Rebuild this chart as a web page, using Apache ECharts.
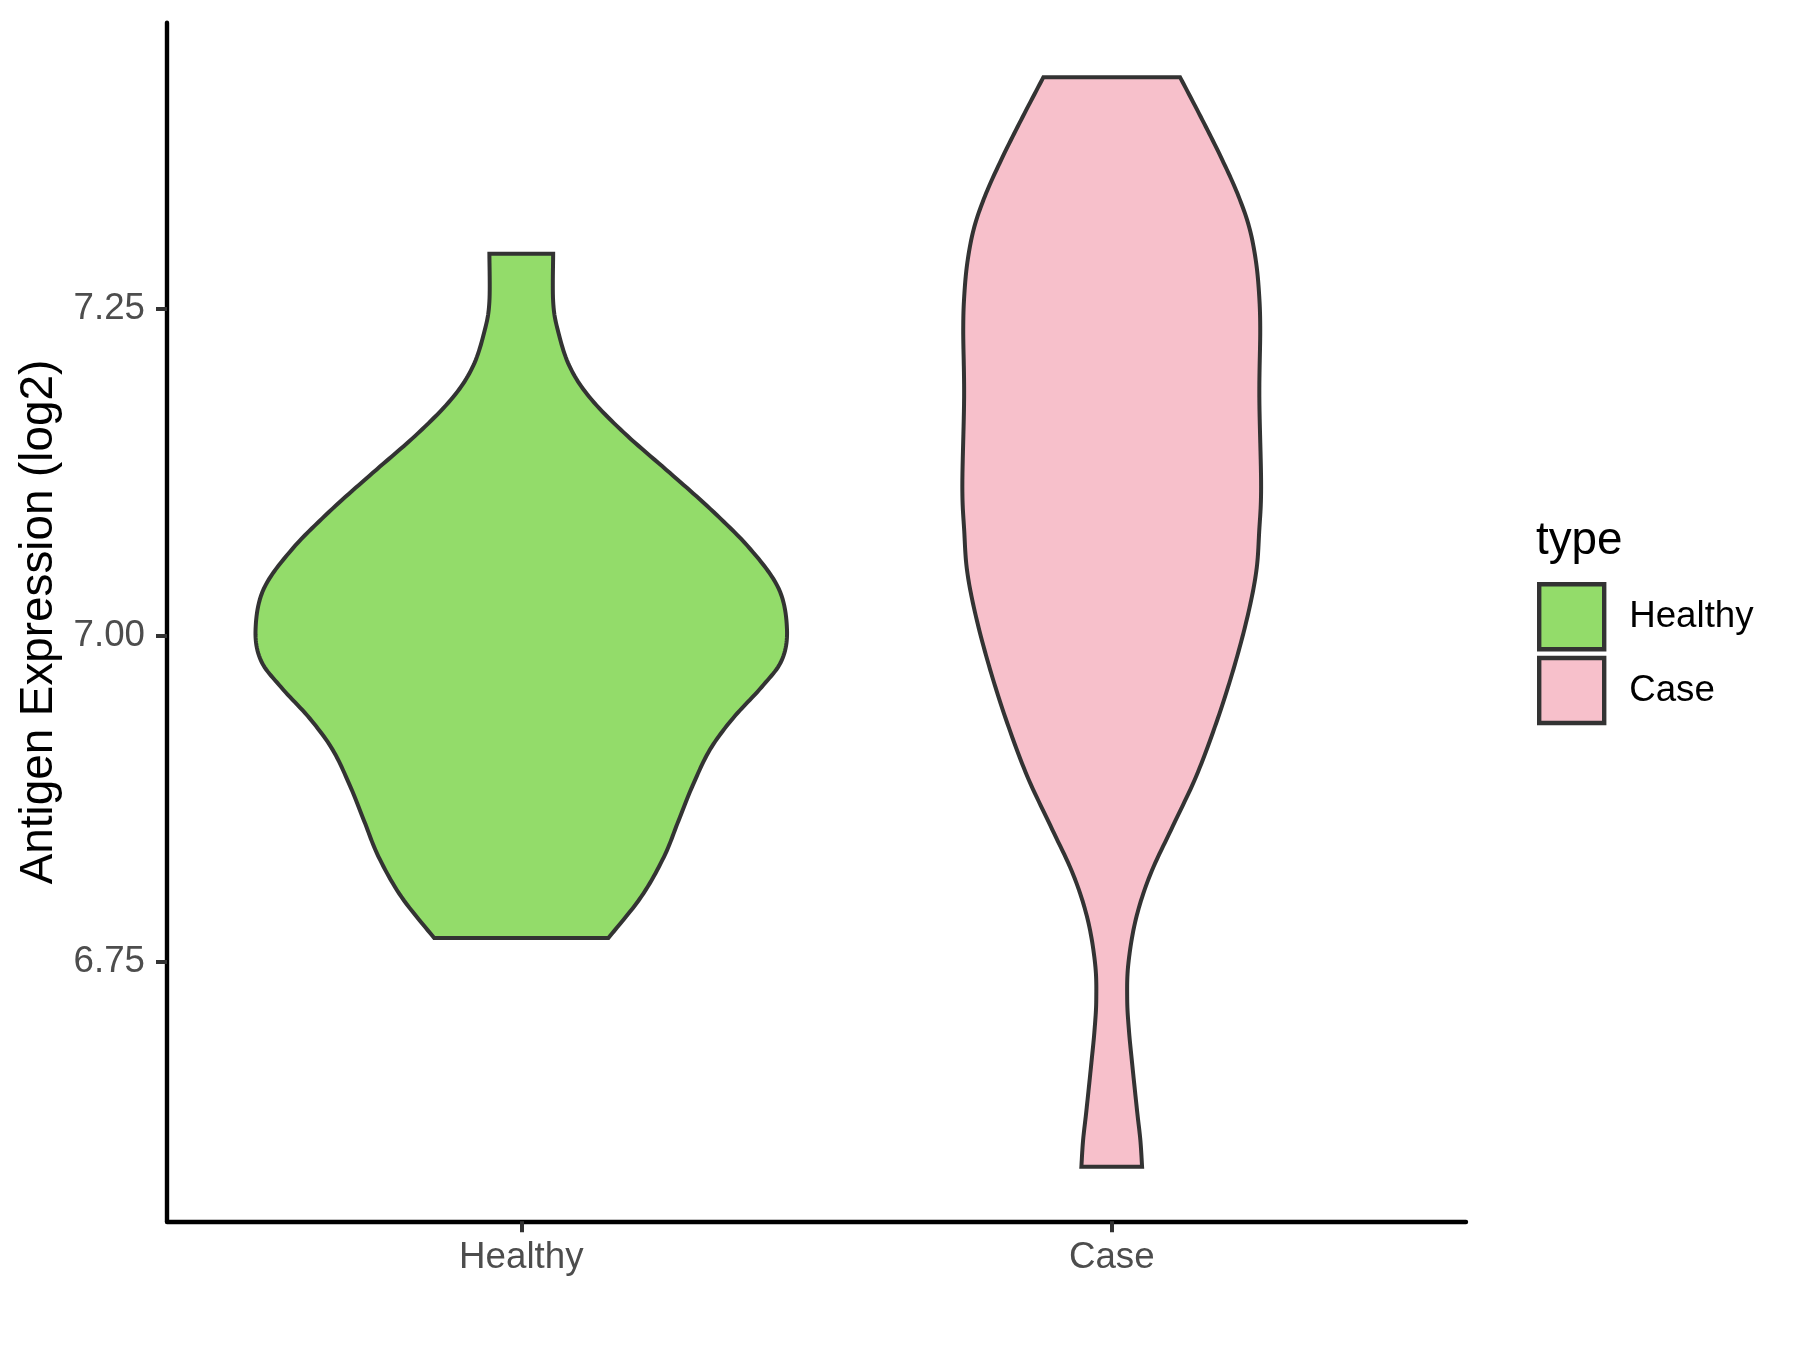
<!DOCTYPE html>
<html><head><meta charset="utf-8">
<script src="https://cdn.jsdelivr.net/npm/echarts@6/dist/echarts.min.js"></script>
<style>html,body{margin:0;padding:0;background:#fff}#c{width:1800px;height:1350px}</style>
</head><body><div id="c"></div>
<script>
// ---- data ----
const categories = ['Healthy', 'Case'];
// violin outlines: expression level (log2) from top to bottom, and half-width (x units)
const healthyLevels = [7.2925, 7.2557, 7.2340, 7.2067, 7.1827, 7.1554, 7.1246, 7.0972, 7.0664, 7.0357, 7.0049, 6.9809, 6.9605, 6.9365, 6.9126, 6.8852, 6.8578, 6.8305, 6.7997, 6.7683];
const healthyHalfWidths = [0.0540, 0.0540, 0.0618, 0.0813, 0.1153, 0.1738, 0.2515, 0.3196, 0.3876, 0.4362, 0.4500, 0.4410, 0.4070, 0.3583, 0.3196, 0.2904, 0.2660, 0.2417, 0.2029, 0.1475];
const caseLevels = [7.4277, 7.3974, 7.3668, 7.3387, 7.3132, 7.2877, 7.2621, 7.2341, 7.1827, 7.1143, 7.0801, 7.0494, 7.0152, 6.9741, 6.9330, 6.8920, 6.8545, 6.8168, 6.7826, 6.7484, 6.7211, 6.6978, 6.6729, 6.6360, 6.6134, 6.5930];
const caseHalfWidths = [0.1157, 0.1507, 0.1846, 0.2128, 0.2326, 0.2439, 0.2495, 0.2515, 0.2500, 0.2530, 0.2498, 0.2449, 0.2303, 0.2061, 0.1770, 0.1429, 0.1040, 0.0652, 0.0408, 0.0281, 0.0262, 0.0291, 0.0344, 0.0429, 0.0485, 0.0514];
const yTicks = [6.75, 7.00, 7.25];
const xTicks = [1, 2];
const fillColors = ['#93DC6A', '#F7C0CB'];

// ---- build ----
const FONT = '"Liberation Sans", Arial, Helvetica, sans-serif';
const OUTLINE = '#333333';
const profiles = [
  { levels: healthyLevels, widths: healthyHalfWidths },
  { levels: caseLevels, widths: caseHalfWidths }
];
let lo = Infinity, hi = -Infinity;
profiles.forEach(p => p.levels.forEach(v => { lo = Math.min(lo, v); hi = Math.max(hi, v); }));
const pad = (hi - lo) * 0.05;

function catmull(pts, n) {
  const out = [];
  for (let i = 0; i < pts.length - 1; i++) {
    const p0 = pts[Math.max(i - 1, 0)], p1 = pts[i], p2 = pts[i + 1], p3 = pts[Math.min(i + 2, pts.length - 1)];
    for (let s = 0; s < n; s++) {
      const t = s / n, t2 = t * t, t3 = t2 * t;
      out.push([0, 1].map(k => 0.5 * ((2 * p1[k]) + (-p0[k] + p2[k]) * t +
        (2 * p0[k] - 5 * p1[k] + 4 * p2[k] - p3[k]) * t2 +
        (-p0[k] + 3 * p1[k] - 3 * p2[k] + p3[k]) * t3)));
    }
  }
  out.push(pts[pts.length - 1]);
  return out;
}

function makeRender(idx) {
  return function (params, api) {
    const p = profiles[idx];
    const cx = idx + 1;
    const left = p.levels.map((v, i) => api.coord([cx - p.widths[i], v]));
    const right = p.levels.map((v, i) => api.coord([cx + p.widths[i], v])).reverse();
    const pts = catmull(left, 12).concat(catmull(right, 12));
    return {
      type: 'polygon',
      shape: { points: pts },
      style: { fill: fillColors[idx], stroke: OUTLINE, lineWidth: 4, lineJoin: 'miter' }
    };
  };
}

const chart = echarts.init(document.getElementById('c'), null, { renderer: 'canvas' });
chart.setOption({
  animation: false,
  backgroundColor: '#ffffff',
  grid: { left: 167, right: 334, top: 22.7, bottom: 128.7, containLabel: false },
  title: {
    text: 'type', left: 1536, top: 518, padding: 0,
    textStyle: { fontSize: 45.8, fontWeight: 'normal', color: '#000000', fontFamily: FONT }
  },
  legend: {
    orient: 'vertical', left: 1537, top: 582, padding: 0,
    itemWidth: 65, itemHeight: 65, itemGap: 4.4, icon: 'rect', selectedMode: false,
    textStyle: { fontSize: 36.7, color: '#000000', fontFamily: FONT, padding: [0, 0, 0, 20] },
    data: categories.map((name, i) => ({
      name, icon: 'rect',
      itemStyle: { color: fillColors[i], borderColor: OUTLINE, borderWidth: 4.4 }
    }))
  },
  xAxis: {
    type: 'value', min: 0.4, max: 2.6,
    splitLine: { show: false },
    axisLine: { show: true, onZero: false, lineStyle: { color: '#000000', width: 4.4 } },
    axisTick: { show: true, customValues: xTicks, length: 11, lineStyle: { color: OUTLINE, width: 4 } },
    axisLabel: {
      customValues: xTicks, margin: 18, fontSize: 36.7, color: '#4D4D4D', fontFamily: FONT,
      formatter: v => categories[Math.round(v) - 1] || ''
    }
  },
  yAxis: {
    type: 'value', min: lo - pad, max: hi + pad,
    name: 'Antigen Expression (log2)', nameLocation: 'middle', nameGap: 100.5,
    nameTextStyle: { fontSize: 45.8, color: '#000000', fontFamily: FONT },
    splitLine: { show: false },
    axisLine: { show: true, onZero: false, lineStyle: { color: '#000000', width: 4.4 } },
    axisTick: { show: true, customValues: yTicks, length: 11, lineStyle: { color: OUTLINE, width: 4 } },
    axisLabel: {
      customValues: yTicks, margin: 22, fontSize: 36.7, color: '#4D4D4D', fontFamily: FONT,
      formatter: v => v.toFixed(2)
    }
  },
  series: categories.map((name, idx) => ({
    type: 'custom', name,
    renderItem: makeRender(idx),
    data: [[idx + 1, profiles[idx].levels[0]]],
    encode: { x: 0, y: 1 },
    clip: false, silent: true,
    itemStyle: { color: fillColors[idx], borderColor: OUTLINE, borderWidth: 4.4 }
  }))
});
</script>
</body></html>
